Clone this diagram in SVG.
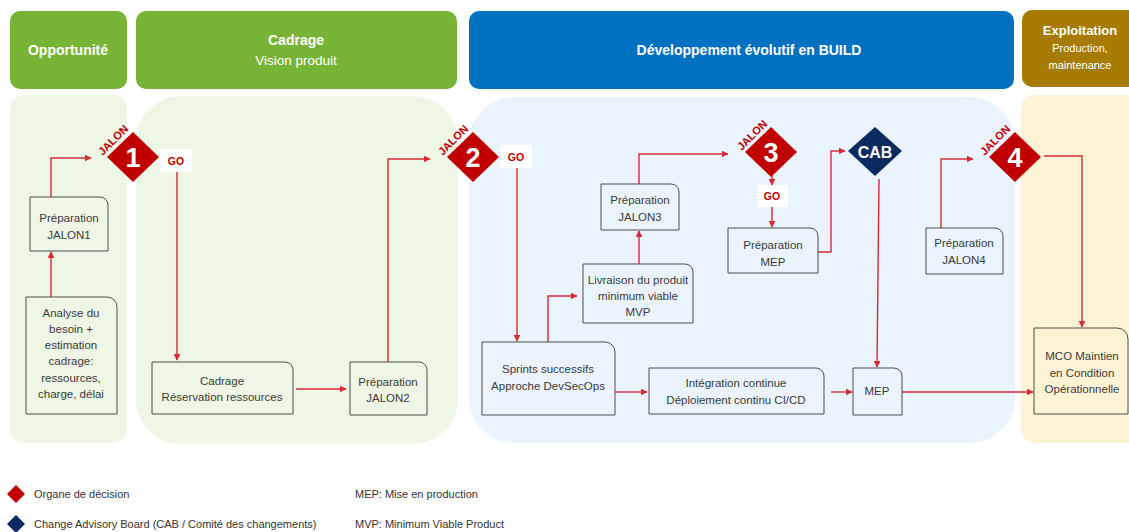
<svg xmlns="http://www.w3.org/2000/svg" width="1129" height="532" viewBox="0 0 1129 532">
  <style>
    .hdr { font-family: "Liberation Sans", Arial, sans-serif; fill: #ffffff; text-anchor: middle; }
    .hb { font-weight: bold; font-size: 14px; }
    .hr { font-size: 13.5px; }
    .hs { font-size: 11px; }
    .hx { font-weight: bold; font-size: 13px; }
    .box { fill: none; stroke: #4d4d4d; stroke-width: 1; }
    .lbl { font-family: "Liberation Sans", Arial, sans-serif; font-size: 11.5px; fill: #3a3a3a; text-anchor: middle; }
    .conn { fill: none; stroke: #d62b35; stroke-width: 1.4; marker-end: url(#arr); }
    .dia { fill: #c00000; }
    .cab { fill: #0b2a62; }
    .num { font-family: "Liberation Sans", Arial, sans-serif; font-weight: bold; font-size: 27px; fill: #ffffff; text-anchor: middle; }
    .jalon { font-family: "Liberation Sans", Arial, sans-serif; font-weight: bold; font-size: 11px; fill: #c00000; text-anchor: middle; }
    .go { font-family: "Liberation Sans", Arial, sans-serif; font-weight: bold; font-size: 10.5px; fill: #c00000; text-anchor: middle; }
    .leg { font-family: "Liberation Sans", Arial, sans-serif; font-size: 11px; fill: #333333; }
  </style>
  <defs>
    <marker id="arr" viewBox="0 0 10 10" refX="9" refY="5" markerWidth="7" markerHeight="7" markerUnits="userSpaceOnUse" orient="auto">
      <path d="M0,0 L10,5 L0,10 Z" fill="#d62b35"/>
    </marker>
  </defs>

  <rect width="1129" height="532" fill="#ffffff"/>

  <!-- phase panels -->
  <g id="panels">
    <rect x="10" y="95" width="117" height="348" rx="14" fill="#eef6e5"/>
    <rect x="136" y="96" width="322" height="348" rx="45" fill="#eef6e5"/>
    <rect x="469" y="97" width="546" height="346" rx="45" fill="#ebf4fd"/>
    <rect x="1021" y="95" width="130" height="348" rx="14" fill="#fff3d6"/>
  </g>

  <!-- phase headers -->
  <g id="hdr-opportunite">
    <rect x="10" y="11" width="117" height="78" rx="10" fill="#77b436"/>
    <text class="hdr hb" x="68" y="55">Opportunité</text>
  </g>
  <g id="hdr-cadrage">
    <rect x="136" y="11" width="321" height="78" rx="10" fill="#77b436"/>
    <text class="hdr hb" x="296" y="45">Cadrage</text>
    <text class="hdr hr" x="296" y="65">Vision produit</text>
  </g>
  <g id="hdr-build">
    <rect x="469" y="11" width="545" height="78" rx="10" fill="#0070c0"/>
    <text class="hdr hb" x="749" y="55">Développement évolutif en BUILD</text>
  </g>
  <g id="hdr-exploitation">
    <rect x="1022" y="10" width="130" height="77" rx="10" fill="#a67b00"/>
    <text class="hdr hx" x="1080" y="35">Exploitation</text>
    <text class="hdr hs" x="1080" y="52">Production,</text>
    <text class="hdr hs" x="1080" y="69">maintenance</text>
  </g>

  <!-- connectors -->
  <g id="connectors">
    <path class="conn" d="M51,297 V252"/>
    <path class="conn" d="M51,197 V158 H91"/>
    <path class="conn" d="M177,172 V360"/>
    <path class="conn" d="M296,389 H346"/>
    <path class="conn" d="M388,362 V159 H430"/>
    <path class="conn" d="M517,168 V341"/>
    <path class="conn" d="M548,342 V296 H577"/>
    <path class="conn" d="M639,264 V231"/>
    <path class="conn" d="M639,184 V154 H728"/>
    <path class="conn" d="M772,175 V185"/>
    <path class="conn" d="M772,207 V227"/>
    <path class="conn" d="M818,252 H831 V151 H845"/>
    <path class="conn" d="M879,179 L877,367"/>
    <path class="conn" d="M615,392 H647"/>
    <path class="conn" d="M831,392 H852"/>
    <path class="conn" d="M902,392 H1033"/>
    <path class="conn" d="M941,228 V159 H973"/>
    <path class="conn" d="M1044,156 H1082 V327"/>
  </g>

  <!-- decision milestones -->
  <g id="jalon1">
    <path class="dia" d="M133,132 L159,157 L133,182 L107,157 Z"/>
    <text class="num" x="133" y="167">1</text>
    <text class="jalon" transform="translate(113,140) rotate(-45)" y="4">JALON</text>
    <rect x="160" y="149" width="32" height="23" fill="#ffffff"/>
    <text class="go" x="176" y="165">GO</text>
  </g>
  <g id="jalon2">
    <path class="dia" d="M473,132 L499,157 L473,182 L447,157 Z"/>
    <text class="num" x="473" y="167">2</text>
    <text class="jalon" transform="translate(453,140) rotate(-45)" y="4">JALON</text>
    <rect x="500" y="145" width="32" height="23" fill="#ffffff"/>
    <text class="go" x="516" y="161">GO</text>
  </g>
  <g id="jalon3">
    <path class="dia" d="M771,127 L797,152 L771,177 L745,152 Z"/>
    <text class="num" x="771" y="162">3</text>
    <text class="jalon" transform="translate(752,135) rotate(-45)" y="4">JALON</text>
    <rect x="757" y="185" width="31" height="22" fill="#ffffff"/>
    <text class="go" x="772" y="200">GO</text>
  </g>
  <g id="cab">
    <path class="cab" d="M875,127 L902,151 L875,176 L848,151 Z"/>
    <text x="875" y="158" font-family="Liberation Sans, Arial, sans-serif" font-weight="bold" font-size="16" fill="#ffffff" text-anchor="middle">CAB</text>
  </g>
  <g id="jalon4">
    <path class="dia" d="M1015,132 L1041,157 L1015,182 L989,157 Z"/>
    <text class="num" x="1015" y="167">4</text>
    <text class="jalon" transform="translate(995,140) rotate(-45)" y="4">JALON</text>
  </g>

  <!-- activity boxes (document shape, rounded top-right corner) -->
  <g id="prep-jalon1">
    <path class="box" d="M30,197 H100 A8,8 0 0 1 108,205 V251 H30 Z"/>
    <text class="lbl" x="69" y="222">Préparation</text>
    <text class="lbl" x="69" y="239">JALON1</text>
  </g>
  <g id="analyse">
    <path class="box" d="M26,297 H107 A10,10 0 0 1 117,307 V414 H26 Z"/>
    <text class="lbl" x="71" y="317">Analyse du</text>
    <text class="lbl" x="71" y="333">besoin +</text>
    <text class="lbl" x="71" y="349">estimation</text>
    <text class="lbl" x="71" y="365">cadrage:</text>
    <text class="lbl" x="71" y="382">ressources,</text>
    <text class="lbl" x="71" y="398">charge, délai</text>
  </g>
  <g id="cadrage">
    <path class="box" d="M152,362 H285 A8,8 0 0 1 293,370 V414 H152 Z"/>
    <text class="lbl" x="222" y="385">Cadrage</text>
    <text class="lbl" x="222" y="401">Réservation ressources</text>
  </g>
  <g id="prep-jalon2">
    <path class="box" d="M350,362 H419 A8,8 0 0 1 427,370 V415 H350 Z"/>
    <text class="lbl" x="388" y="386">Préparation</text>
    <text class="lbl" x="388" y="402">JALON2</text>
  </g>
  <g id="sprints">
    <path class="box" d="M482,342 H605 A10,10 0 0 1 615,352 V415 H482 Z"/>
    <text class="lbl" x="548" y="373">Sprints successifs</text>
    <text class="lbl" x="548" y="390">Approche DevSecOps</text>
  </g>
  <g id="livraison-mvp">
    <path class="box" d="M583,264 H685 A8,8 0 0 1 693,272 V323 H583 Z"/>
    <text class="lbl" x="638" y="284">Livraison du produit</text>
    <text class="lbl" x="638" y="300">minimum viable</text>
    <text class="lbl" x="638" y="316">MVP</text>
  </g>
  <g id="prep-jalon3">
    <path class="box" d="M601,184 H671 A8,8 0 0 1 679,192 V230 H601 Z"/>
    <text class="lbl" x="640" y="204">Préparation</text>
    <text class="lbl" x="640" y="221">JALON3</text>
  </g>
  <g id="prep-mep">
    <path class="box" d="M728,228 H810 A8,8 0 0 1 818,236 V273 H728 Z"/>
    <text class="lbl" x="773" y="249">Préparation</text>
    <text class="lbl" x="773" y="266">MEP</text>
  </g>
  <g id="integration">
    <path class="box" d="M649,368 H816 A8,8 0 0 1 824,376 V414 H649 Z"/>
    <text class="lbl" x="736" y="387">Intégration continue</text>
    <text class="lbl" x="736" y="404">Déploiement continu CI/CD</text>
  </g>
  <g id="mep">
    <path class="box" d="M853,368 H894 A8,8 0 0 1 902,376 V415 H853 Z"/>
    <text class="lbl" x="877" y="395">MEP</text>
  </g>
  <g id="prep-jalon4">
    <path class="box" d="M926,228 H995 A8,8 0 0 1 1003,236 V274 H926 Z"/>
    <text class="lbl" x="964" y="247">Préparation</text>
    <text class="lbl" x="964" y="264">JALON4</text>
  </g>
  <g id="mco">
    <path class="box" d="M1034,328 H1117 A11,11 0 0 1 1128,339 V414 H1034 Z"/>
    <text class="lbl" x="1082" y="360">MCO Maintien</text>
    <text class="lbl" x="1082" y="377">en Condition</text>
    <text class="lbl" x="1082" y="393">Opérationnelle</text>
  </g>

  <!-- legend -->
  <g id="legend">
    <path class="dia" d="M16,485 L25,494 L16,503 L7,494 Z"/>
    <text class="leg" x="34" y="498">Organe de décision</text>
    <path class="cab" d="M16,515 L25,524 L16,533 L7,524 Z"/>
    <text class="leg" x="34" y="528">Change Advisory Board (CAB / Comité des changements)</text>
    <text class="leg" x="355" y="498">MEP: Mise en production</text>
    <text class="leg" x="355" y="528">MVP: Minimum Viable Product</text>
  </g>
</svg>
